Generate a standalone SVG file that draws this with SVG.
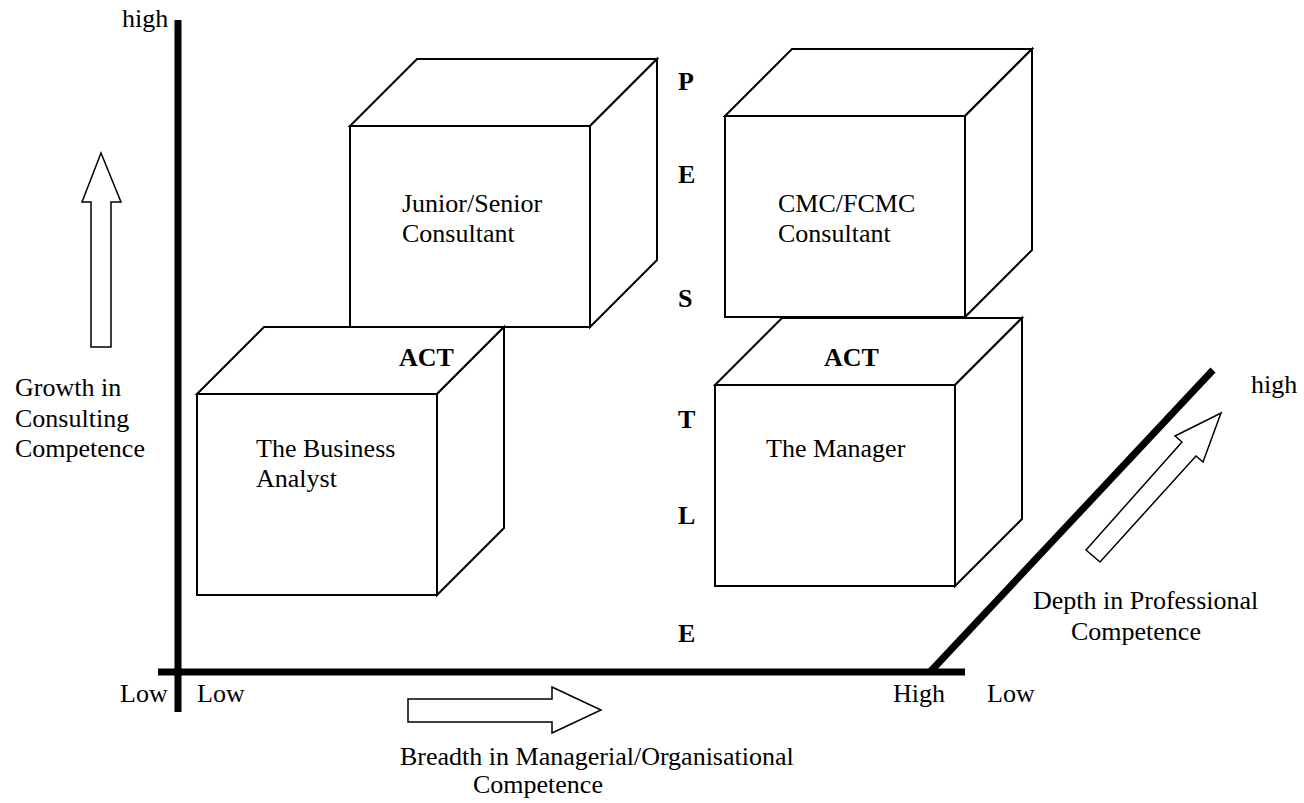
<svg xmlns="http://www.w3.org/2000/svg" width="1304" height="803" viewBox="0 0 1304 803">
<style>
text{font-family:"Liberation Serif","Times New Roman",serif;font-size:26px;fill:#000}
.b{font-weight:bold}
.cube{fill:#fff;stroke:#000;stroke-width:2;stroke-linejoin:miter}
.axis{stroke:#000;stroke-width:7;fill:none}
.arr{fill:#fff;stroke:#000;stroke-width:1.5}
</style>
<rect width="1304" height="803" fill="#fff"/>
<g id="connectors">
<line class="axis" x1="178" y1="20" x2="178" y2="712"/>
<line class="axis" x1="158" y1="672" x2="965" y2="672"/>
<line class="axis" x1="930" y1="672" x2="1213" y2="370" stroke-width="6"/>
<polygon class="arr" points="91,347 111,347 111,202 121,202 101,153 82,202 91,202"/>
<polygon class="arr" points="408,699 552,699 552,687 601,710 552,733 552,722 408,722"/>
<polygon class="arr" points="1086,550 1182,442 1175,436 1221,413 1203,462 1196,456 1100,562"/>
</g>
<g id="junior">
<polygon class="cube" points="350,126 417,59 657,59 590,126"/>
<polygon class="cube" points="590,126 657,59 657,260 590,327"/>
<rect class="cube" x="350" y="126" width="240" height="201"/>
<text x="402" y="212">Junior/Senior</text>
<text x="402" y="242">Consultant</text>
</g>
<g id="analyst">
<polygon class="cube" points="197,394 264,327 504,327 437,394"/>
<polygon class="cube" points="437,394 504,327 504,528 437,595"/>
<rect class="cube" x="197" y="394" width="240" height="201"/>
<text class="b" x="399" y="366">ACT</text>
<text x="256" y="457">The Business</text>
<text x="256" y="487">Analyst</text>
</g>
<g id="cmc">
<polygon class="cube" points="725,116 792,49 1032,49 965,116"/>
<polygon class="cube" points="965,116 1032,49 1032,250 965,317"/>
<rect class="cube" x="725" y="116" width="240" height="201"/>
<text x="778" y="212">CMC/FCMC</text>
<text x="778" y="242">Consultant</text>
</g>
<g id="manager">
<polygon class="cube" points="715,385 782,318 1022,318 955,385"/>
<polygon class="cube" points="955,385 1022,318 1022,519 955,586"/>
<rect class="cube" x="715" y="385" width="240" height="201"/>
<text class="b" x="824" y="366">ACT</text>
<text x="766" y="457">The Manager</text>
</g>
<g id="pestle">
<text class="b" x="678" y="90">P</text>
<text class="b" x="678" y="183">E</text>
<text class="b" x="678" y="307">S</text>
<text class="b" x="678" y="428">T</text>
<text class="b" x="678" y="524">L</text>
<text class="b" x="678" y="642">E</text>
</g>
<g id="labels">
<text x="122" y="27">high</text>
<text x="15" y="396">Growth in</text>
<text x="15" y="427">Consulting</text>
<text x="15" y="457">Competence</text>
<text x="120" y="702">Low</text>
<text x="197" y="702">Low</text>
<text x="893" y="702">High</text>
<text x="987" y="702">Low</text>
<text x="400" y="765">Breadth in Managerial/Organisational</text>
<text x="473" y="793">Competence</text>
<text x="1033" y="609">Depth in Professional</text>
<text x="1071" y="640">Competence</text>
<text x="1251" y="393">high</text>
</g>
</svg>
